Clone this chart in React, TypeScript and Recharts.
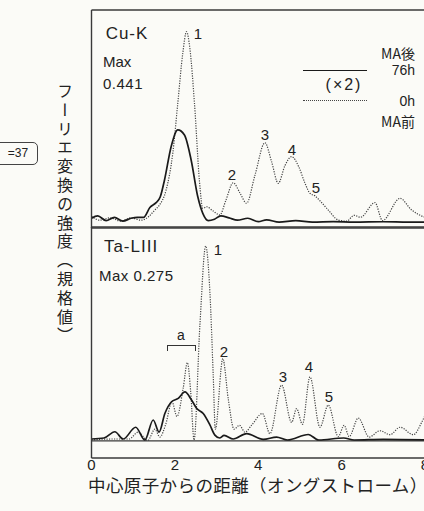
import { LineChart, Line, XAxis, YAxis, ReferenceLine } from "recharts";

// [距離 (Å), 強度 (目盛単位)]
const cuAfter: [number, number][] = [
  [0, 0.5], [0.15, 0.62], [0.35, 0.38], [0.55, 0.55], [0.75, 0.35], [0.95, 0.5],
  [1.1, 0.55], [1.25, 0.55], [1.4, 1.05], [1.55, 1.3], [1.65, 1.6], [1.75, 2.45],
  [1.91, 4.17], [2.07, 5.03], [2.23, 4.77], [2.39, 3.49], [2.55, 1.6], [2.67, 0.75],
  [2.8, 0.38], [2.95, 0.45], [3.1, 0.62], [3.3, 0.52], [3.5, 0.4], [3.75, 0.5],
  [4.0, 0.33], [4.2, 0.42], [4.5, 0.3], [4.9, 0.38], [5.3, 0.3], [5.8, 0.33],
  [6.3, 0.3], [7.0, 0.32], [7.6, 0.3], [8, 0.3],
];

const cuBefore: [number, number][] = [
  [0, 0.6], [0.2, 0.4], [0.45, 0.52], [0.7, 0.35], [0.95, 0.52], [1.2, 0.4],
  [1.38, 0.6], [1.51, 0.9], [1.62, 1.15], [1.79, 1.95], [1.95, 3.84], [2.07, 6.4],
  [2.19, 8.97], [2.28, 10.07], [2.36, 9.2], [2.47, 6.4], [2.59, 2.4], [2.67, 1.0],
  [2.76, 1.09], [2.9, 0.9], [3.08, 0.67], [3.22, 1.4], [3.4, 2.32], [3.56, 1.8],
  [3.72, 1.27], [3.92, 2.7], [4.16, 4.37], [4.32, 3.4], [4.48, 2.29], [4.64, 3.2],
  [4.8, 3.66], [4.98, 3.1], [5.12, 2.3], [5.24, 1.78], [5.36, 1.65], [5.5, 1.35],
  [5.68, 0.92], [5.92, 0.41], [6.12, 0.35], [6.3, 0.65], [6.45, 0.55], [6.8, 1.3],
  [6.98, 0.38], [7.4, 1.52], [7.68, 0.92], [7.96, 0.58], [8, 0.55],
];

const taAfter: [number, number][] = [
  [0, 0.1], [0.3, 0.15], [0.56, 0.47], [0.76, 0.1], [1.06, 0.7], [1.28, 0.05],
  [1.48, 1.07], [1.62, 0.45], [1.76, 1.4], [1.92, 2.0], [2.08, 2.17], [2.24, 2.5],
  [2.4, 2.09], [2.52, 1.67], [2.68, 1.4], [2.84, 0.82], [2.96, 0.3], [3.08, 0.15],
  [3.18, 0.28], [3.4, 0.1], [3.72, 0.37], [4.12, 0.08], [4.44, 0.2], [4.7, 0.05],
  [5.2, 0.33], [5.45, 0.05], [6.05, 0.15], [6.3, 0.05], [7.0, 0.08], [8, 0.05],
];

const taBefore: [number, number][] = [
  [0, 0.05], [0.5, 0.1], [0.9, 0.1], [1.12, 0.45], [1.35, 0.02], [1.52, 0.6],
  [1.64, 0.2], [1.78, 0.85], [1.93, 2.0], [2.05, 1.25], [2.2, 2.7], [2.3, 4.0],
  [2.38, 2.5], [2.46, 0.05], [2.6, 5.9], [2.74, 9.95], [2.84, 7.6], [2.92, 3.35],
  [2.97, 0.6], [3.15, 4.2], [3.28, 2.15], [3.42, 0.6], [3.55, 0.8], [3.68, 0.45],
  [3.84, 0.8], [4.1, 1.4], [4.28, 0.37], [4.56, 2.85], [4.8, 0.95], [4.92, 1.65],
  [5.06, 0.85], [5.24, 3.27], [5.48, 0.7], [5.68, 1.83], [5.92, 0.22], [6.06, 0.8],
  [6.18, 0.22], [6.4, 1.17], [6.66, 0.2], [6.92, 0.52], [7.16, 0.32], [7.4, 0.7],
  [7.72, 0.32], [7.92, 0.95], [8, 1.3],
];

const minorTicks = [0, 0.5, 1, 1.5, 2, 2.5, 3, 3.5, 4, 4.5, 5, 5.5, 6, 6.5, 7, 7.5, 8];
const distanceLabels = [0, 2, 4, 6, 8];
const cuTicks = [1, 2, 3, 4, 5, 6, 7, 8, 9, 10];
const taTicks = [0, 1, 2, 3, 4, 5, 6, 7, 8, 9, 10];

const toRows = (pts: [number, number][]) => pts.map(([r, v]) => ({ r, v }));

const ink = "#222";
const frame = "#3a3a3a";
const latin = "'Liberation Sans', Arial, sans-serif";
const cjk = "'Noto Sans CJK JP', 'Noto Sans', sans-serif";

function Txt(props: {
  x: number; y: number; size?: number; family?: string; spacing?: number;
  anchor?: "start" | "middle" | "end"; children: React.ReactNode;
}) {
  const { x, y, size = 15, family = latin, spacing = 0, anchor = "middle" } = props;
  const tx = anchor === "middle" ? "-50%" : anchor === "end" ? "-100%" : "0";
  return (
    <div
      style={{
        position: "absolute", left: x, top: y, transform: `translate(${tx},-50%)`,
        fontSize: size, fontFamily: family, letterSpacing: spacing, lineHeight: 1,
        whiteSpace: "nowrap", color: ink,
      }}
    >
      {props.children}
    </div>
  );
}

const axisLineStyle = { stroke: frame, strokeWidth: 1.4 };
const tickLineStyle = { stroke: frame, strokeWidth: 1 };

function PanelAxes(yDomain: [number, number], yTicks: number[]) {
  return [
    <XAxis key="b" xAxisId="b" dataKey="r" type="number" domain={[0, 8]} allowDataOverflow
      ticks={minorTicks} orientation="bottom" mirror tick={false} tickSize={4}
      axisLine={axisLineStyle} tickLine={tickLineStyle} />,
    <XAxis key="t" xAxisId="t" dataKey="r" type="number" domain={[0, 8]} allowDataOverflow
      ticks={minorTicks} orientation="top" mirror tick={false} tickSize={4}
      axisLine={axisLineStyle} tickLine={tickLineStyle} />,
    <YAxis key="l" yAxisId="l" type="number" domain={yDomain} allowDataOverflow
      ticks={yTicks} orientation="left" mirror tick={false} tickSize={4}
      axisLine={axisLineStyle} tickLine={tickLineStyle} />,
    <YAxis key="r" yAxisId="r" type="number" domain={yDomain} allowDataOverflow
      ticks={yTicks} orientation="right" mirror tick={false} tickSize={4}
      axisLine={axisLineStyle} tickLine={tickLineStyle} />,
  ];
}

const solidProps = { stroke: "#1a1a1a", strokeWidth: 1.7 };
const dottedProps = { stroke: "#444", strokeWidth: 1.2, strokeDasharray: "1.2 1.3" };

export default function App() {
  return (
    <div style={{ position: "absolute", left: 0, top: 0, width: 424, height: 511, overflow: "hidden", background: "#fbfbf7" }}>
      {/* Cu-K */}
      <div style={{ position: "absolute", left: 0, top: 0 }}>
        <LineChart width={440} height={230} margin={{ top: 10, right: 15, bottom: 2, left: 91.5 }}>
          {PanelAxes([0, 11.18], cuTicks)}
          <Line xAxisId="b" yAxisId="l" data={toRows(cuBefore)} dataKey="v" type="monotone"
            dot={false} isAnimationActive={false} {...dottedProps} />
          <Line xAxisId="b" yAxisId="l" data={toRows(cuAfter)} dataKey="v" type="monotone"
            dot={false} isAnimationActive={false} {...solidProps} />
        </LineChart>
      </div>

      {/* Ta-LIII */}
      <div style={{ position: "absolute", left: 0, top: 222 }}>
        <LineChart width={440} height={260} margin={{ top: 5, right: 15, bottom: 4, left: 91.5 }}>
          {PanelAxes([-0.87, 10.92], taTicks)}
          <XAxis xAxisId="lbl" dataKey="r" type="number" domain={[0, 8]} allowDataOverflow
            ticks={distanceLabels} orientation="bottom" height={20} axisLine={false}
            tickLine={false} tickSize={0} tickMargin={1}
            tick={{ fill: ink, fontSize: 15, fontFamily: latin }} />
          <ReferenceLine xAxisId="b" yAxisId="l" y={0} stroke={frame} strokeWidth={1.2} />
          <Line xAxisId="b" yAxisId="l" data={toRows(taBefore)} dataKey="v" type="monotone"
            dot={false} isAnimationActive={false} {...dottedProps} />
          <Line xAxisId="b" yAxisId="l" data={toRows(taAfter)} dataKey="v" type="monotone"
            dot={false} isAnimationActive={false} {...solidProps} />
        </LineChart>
      </div>

      {/* 上段の注記 */}
      <Txt x={127} y={33} size={17} spacing={1}>Cu-K</Txt>
      <Txt x={103} y={61} size={15} anchor="start">Max</Txt>
      <Txt x={103} y={83} size={15} anchor="start" spacing={0.5}>0.441</Txt>
      <Txt x={198} y={33} size={15}>1</Txt>
      <Txt x={232} y={174} size={15}>2</Txt>
      <Txt x={265} y={134} size={15}>3</Txt>
      <Txt x={292} y={149} size={15}>4</Txt>
      <Txt x={316} y={187} size={15}>5</Txt>

      {/* 凡例 */}
      <div style={{ position: "absolute", left: 303, top: 70, width: 64, borderTop: "1.6px solid #1a1a1a" }} />
      <div style={{ position: "absolute", left: 303, top: 100, width: 64, borderTop: "1.2px dotted #444" }} />
      <Txt x={344} y={85} size={16} spacing={2}>(×2)</Txt>
      <Txt x={415} y={53} size={14} family={cjk} anchor="end">MA後</Txt>
      <Txt x={415} y={70} size={14} anchor="end">76h</Txt>
      <Txt x={415} y={101} size={14} anchor="end">0h</Txt>
      <Txt x={415} y={121} size={14} family={cjk} anchor="end">MA前</Txt>

      {/* 下段の注記 */}
      <Txt x={131} y={246} size={17} spacing={1}>Ta-LIII</Txt>
      <Txt x={99} y={275} size={15} anchor="start" spacing={0.5}>Max 0.275</Txt>
      <Txt x={218} y={249} size={15}>1</Txt>
      <Txt x={224} y={351} size={15}>2</Txt>
      <Txt x={283} y={376} size={15}>3</Txt>
      <Txt x={309} y={366} size={15}>4</Txt>
      <Txt x={329} y={396} size={15}>5</Txt>
      <div style={{ position: "absolute", left: 167, top: 345, width: 27, height: 5, border: "1.3px solid #333", borderBottom: "none" }} />
      <Txt x={181} y={335} size={14}>a</Txt>

      {/* 軸タイトル */}
      <div
        style={{
          position: "absolute", left: 57, top: 83, writingMode: "vertical-rl",
          fontSize: 16, letterSpacing: 2.8, fontFamily: cjk, color: ink, lineHeight: 1,
        }}
      >
        フーリエ変換の強度（規格値）
      </div>
      <Txt x={88} y={485} size={17.5} family={cjk} anchor="start" spacing={0.4}>
        中心原子からの距離（オングストローム）
      </Txt>

      {/* 左端の切れた枠 */}
      <div style={{ position: "absolute", left: -10, top: 142, width: 46, height: 21, border: "1.2px solid #444", borderRadius: 5 }} />
      <Txt x={18} y={153} size={12}>=37</Txt>
    </div>
  );
}
